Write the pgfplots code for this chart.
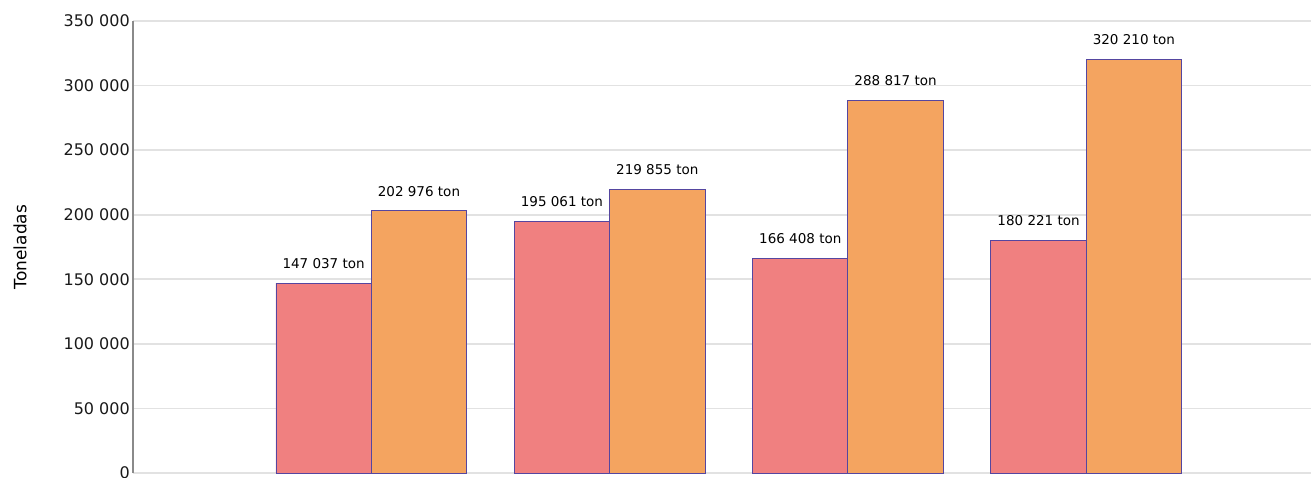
\documentclass[border=0pt]{standalone}
\usepackage{pgfplots}
\pgfplotsset{compat=1.18}
\usepackage{fontspec}
\setmainfont{DejaVu Sans}

\definecolor{barred}{HTML}{F08080}
\definecolor{barorange}{HTML}{F4A460}
\definecolor{baredge}{HTML}{5546A0}
\definecolor{gridgray}{HTML}{E2E2E2}
\definecolor{axisgray}{HTML}{8A8A8A}

\begin{document}
\begin{tikzpicture}
  \begin{axis}[
    name=main,
    at={(0,0)}, anchor=south west,
    scale only axis,
    width=1178pt, height=452pt,
    xmin=0, xmax=4.943,
    ymin=0, ymax=350000,
    axis x line=none,
    axis y line*=left,
    y axis line style={draw=axisgray, line width=1.3pt, -},
    ytick={0,50000,100000,150000,200000,250000,300000,350000},
    yticklabels={0,50 000,100 000,150 000,200 000,250 000,300 000,350 000},
    scaled y ticks=false,
    major tick length=0pt,
    yticklabel style={font=\fontsize{16}{19}\selectfont, color=black!90, inner sep=0pt, anchor=east, xshift=-3pt},
    ymajorgrids,
    major grid style={draw=gridgray, line width=1.6pt},
    ylabel={Toneladas},
    ylabel style={font=\fontsize{17}{20}\selectfont, at={(axis description cs:0,0.5)}, anchor=center, yshift=113pt},
    ybar,
    bar width=0.4,
    nodes near coords,
    point meta=explicit symbolic,
    nodes near coords style={font=\fontsize{13.5}{16}\selectfont, color=black, inner sep=0pt, anchor=south, yshift=14pt},
  ]
  \addplot[fill=barred, draw=baredge, line width=0.9pt, bar shift=-0.2] coordinates {
    (1,147037) [147 037 ton]
    (2,195061) [195 061 ton]
    (3,166408) [166 408 ton]
    (4,180221) [180 221 ton]
  };
  \addplot[fill=barorange, draw=baredge, line width=0.9pt, bar shift=0.2] coordinates {
    (1,202976) [202 976 ton]
    (2,219855) [219 855 ton]
    (3,288817) [288 817 ton]
    (4,320210) [320 210 ton]
  };
  \end{axis}
  \pgfresetboundingbox
  \path[use as bounding box] (-133pt,-4pt) rectangle (1178pt,473pt);
\end{tikzpicture}
\end{document}
